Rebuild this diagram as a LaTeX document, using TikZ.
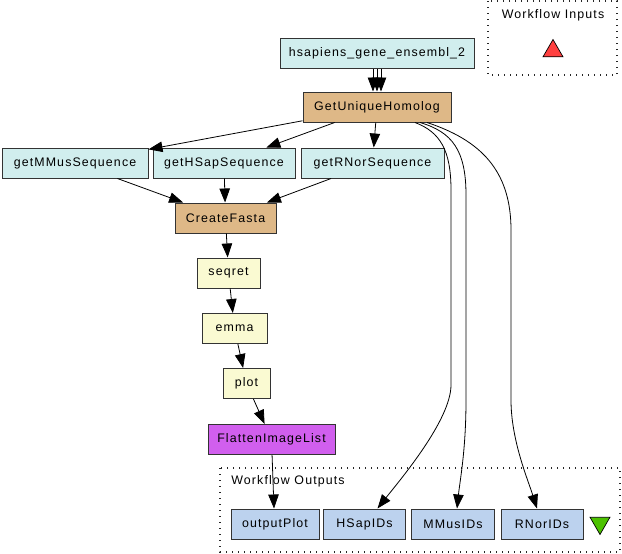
\documentclass[tikz,border=0pt]{standalone}
\usepackage{fontspec}
\setmainfont[LetterSpace=9]{Liberation Sans}
\usetikzlibrary{shapes.geometric, arrows.meta, shadows}
\definecolor{biomartcol}{HTML}{D1EEEE}
\definecolor{beanshellcol}{HTML}{DEB887}
\definecolor{soaplabcol}{HTML}{FAFAD2}
\definecolor{localcol}{HTML}{D15FEE}
\definecolor{outputcol}{HTML}{BCD2EE}
\tikzstyle{proc} = [rectangle, minimum height=30pt, text centered, draw=black!80, line width=1pt, font=\fontsize{12.4}{14}\selectfont, drop shadow={shadow xshift=0.8pt, shadow yshift=-0.8pt, fill=black!70, opacity=1}]
\tikzstyle{biomart} = [proc, fill=biomartcol]
\tikzstyle{beanshell} = [proc, fill=beanshellcol]
\tikzstyle{soaplab} = [proc, fill=soaplabcol]
\tikzstyle{localworker} = [proc, fill=localcol]
\tikzstyle{wfoutput} = [proc, fill=outputcol]
\tikzstyle{cluster} = [draw=black!85, line width=1.1pt, dash pattern=on 1.4pt off 4.6pt]
\tikzstyle{clusterlabel} = [font=\fontsize{12.4}{14}\selectfont]
\tikzstyle{port} = [regular polygon, regular polygon sides=3, draw=black, line width=0.7pt, inner sep=0pt, minimum size=23pt]
\tikzstyle{arrow} = [-{Triangle[length=14pt,width=10.5pt]}, line width=0.8pt]

\begin{document}
\begin{tikzpicture}[x=1pt, y=-1pt]
            \useasboundingbox (0,0) rectangle (622,554);
            % workflow inputs
            \draw [cluster] (488,1) rectangle (617,75);
            \node [clusterlabel] at (553,15) (inlabel) {Workflow Inputs};
            \node [port, fill=red!75] at (553,51) (intri) {};

            \node [biomart, minimum width=194pt] at (377,53) (hsap) {hsapiens\_gene\_ensembl\_2};
            \node [beanshell, minimum width=148pt] at (377,107) (guh) {GetUniqueHomolog};
            \node [biomart, minimum width=146pt] at (75,163) (getmmus) {getMMusSequence};
            \node [biomart, minimum width=142pt] at (224,163) (gethsap) {getHSapSequence};
            \node [biomart, minimum width=143pt] at (372.5,163) (getrnor) {getRNorSequence};
            \node [beanshell, minimum width=101pt] at (225.5,218) (fasta) {CreateFasta};
            \node [soaplab, minimum width=63pt] at (228.5,273) (seqret) {seqret};
            \node [soaplab, minimum width=65pt] at (234.5,328.5) (emma) {emma};
            \node [soaplab, minimum width=47pt] at (246.5,383.5) (plot) {plot};
            \node [localworker, minimum width=127pt] at (271.5,439.5) (flatten) {FlattenImageList};

            % workflow outputs
            \draw [cluster] (220,468) rectangle (620,552);
            \node [clusterlabel] at (288,481) (outlabel) {Workflow Outputs};
            \node [wfoutput, minimum width=88pt] at (275,524) (outplot) {outputPlot};
            \node [wfoutput, minimum width=82pt] at (364.5,524) (hsapids) {HSapIDs};
            \node [wfoutput, minimum width=83pt] at (453,524) (mmusids) {MMusIDs};
            \node [wfoutput, minimum width=82pt] at (542,524) (rnorids) {RNorIDs};
            \node [port, fill=green!60!black!60!lime, shape border rotate=180] at (600,523) (outtri) {};

            \draw [arrow] ([xshift=-4pt]hsap.south) -- ([xshift=-4pt]guh.north);
            \draw [arrow] (hsap.south) -- (guh.north);
            \draw [arrow] ([xshift=4pt]hsap.south) -- ([xshift=4pt]guh.north);
            \draw [arrow] (guh) -- (getmmus);
            \draw [arrow] (guh) -- (gethsap);
            \draw [arrow] (guh) -- (getrnor);
            \draw [arrow] (getmmus) -- (fasta);
            \draw [arrow] (gethsap) -- (fasta);
            \draw [arrow] (getrnor) -- (fasta);
            \draw [arrow] (fasta) -- (seqret);
            \draw [arrow] (seqret) -- (emma);
            \draw [arrow] (emma) -- (plot);
            \draw [arrow] (plot) -- (flatten);
            \draw [arrow] (flatten) -- ([xshift=-1pt]outplot.north);
            \draw [arrow] ([xshift=38pt]guh.south) .. controls (440,132) and (451,150) .. (451,190) -- (451,385) .. controls (451,420) and (400,480) .. ([xshift=13pt]hsapids.north);
            \draw [arrow] ([xshift=43pt]guh.south) .. controls (452,132) and (466,150) .. (466,195) -- (466,400) .. controls (466,450) and (460,480) .. ([xshift=4pt]mmusids.north);
            \draw [arrow] ([xshift=50pt]guh.south) .. controls (480,140) and (511,170) .. (511,230) -- (511,400) .. controls (511,440) and (528,480) .. ([xshift=-5pt]rnorids.north);
            \end{tikzpicture}
\end{document}
